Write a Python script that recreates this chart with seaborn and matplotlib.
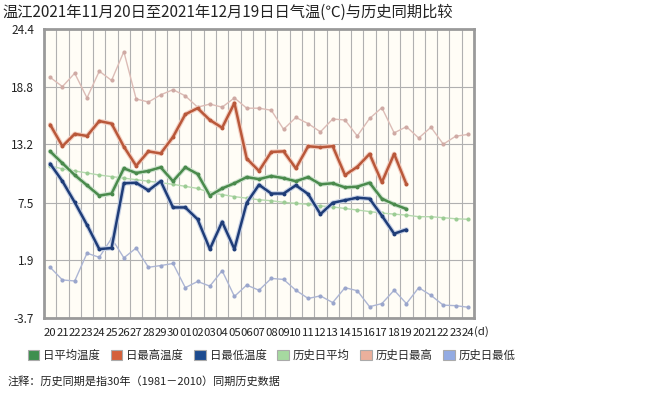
import numpy as np
import pandas as pd
import matplotlib
matplotlib.use("Agg")
import matplotlib.pyplot as plt
from matplotlib.patches import Patch
import seaborn as sns

# ---------------- data ----------------
day_labels = ["20", "21", "22", "23", "24", "25", "26", "27", "28", "29", "30",
              "01", "02", "03", "04", "05", "06", "07", "08", "09", "10",
              "11", "12", "13", "14", "15", "16", "17", "18", "19", "20",
              "21", "22", "23", "24"]

daily_mean = [12.5, 11.35, 10.2, 9.2, 8.2, 8.4, 10.85, 10.4, 10.6, 10.95,
              9.6, 10.95, 10.3, 8.2, 8.9, 9.4, 10.0, 9.8, 10.1, 9.9,
              9.6, 10.0, 9.3, 9.4, 9.0, 9.07, 9.45, 7.9, 7.35, 6.9]
daily_max = [15.1, 13.0, 14.2, 14.0, 15.45, 15.2, 12.96, 11.1, 12.5, 12.3,
             13.9, 16.1, 16.7, 15.55, 14.8, 17.2, 11.8, 10.6, 12.45, 12.5,
             10.85, 13.0, 12.9, 13.0, 10.2, 11.0, 12.25, 9.5, 12.25, 9.3]
daily_min = [11.3, 9.6, 7.55, 5.35, 3.0, 3.1, 9.4, 9.45, 8.7, 9.6,
             7.05, 7.05, 5.9, 3.0, 5.65, 3.0, 7.5, 9.25, 8.4, 8.4,
             9.2, 8.35, 6.4, 7.5, 7.75, 8.0, 7.9, 6.25, 4.5, 4.9]
hist_mean = [11.1, 10.8, 10.6, 10.4, 10.2, 10.05, 9.9, 9.75, 9.6, 9.45,
             9.3, 9.1, 8.9, 8.5, 8.3, 8.1, 7.95, 7.8, 7.7, 7.55,
             7.45, 7.35, 7.2, 7.1, 6.95, 6.8, 6.65, 6.5, 6.4, 6.3,
             6.15, 6.15, 6.05, 5.95, 5.9]
hist_max = [19.7, 18.8, 20.1, 17.7, 20.3, 19.4, 22.2, 17.6, 17.3, 18.0,
            18.5, 17.9, 16.8, 17.1, 16.8, 17.7, 16.7, 16.7, 16.5, 14.65,
            15.8, 15.2, 14.4, 15.65, 15.55, 14.0, 15.7, 16.75, 14.3, 14.9,
            13.8, 14.85, 13.2, 13.97, 14.15]
hist_min = [1.23, 0.0, -0.1, 2.6, 2.2, 4.05, 2.15, 3.1, 1.23, 1.4,
            1.6, -0.75, -0.15, -0.6, 0.9, -1.6, -0.5, -1.0, 0.15, 0.05,
            -1.0, -1.8, -1.55, -2.2, -0.75, -1.05, -2.6, -2.3, -1.0, -2.3,
            -0.75, -1.5, -2.45, -2.5, -2.65]

y_ticks = [-3.7, 1.9, 7.5, 13.2, 18.8, 24.4]

title = "温江2021年11月20日至2021年12月19日日气温(℃)与历史同期比较"
legend_names = ["日平均温度", "日最高温度", "日最低温度", "历史日平均", "历史日最高", "历史日最低"]
legend_colors = ["#3e8f4f", "#d4603a", "#1d4b8f", "#a6d9a0", "#ebb09c", "#93abe3"]
note = "注释：历史同期是指30年（1981－2010）同期历史数据"

# ---------------- style ----------------
sns.set_theme(style="white")
plt.rcParams['font.family'] = ['Noto Sans CJK SC', 'DejaVu Sans']

fig = plt.figure(figsize=(6.54, 3.97), dpi=100)
ax = fig.add_axes([44 / 654, 1 - 318 / 397, 430 / 654, 289 / 397])
ax.set_facecolor("#fffdf6")

# history series (thin)
hist_specs = [
    (hist_max, "#dcbcb6", "#cfaaa4"),
    (hist_mean, "#b5d9ae", "#9ccc94"),
    (hist_min, "#adb6d4", "#9aa6cc"),
]
for vals, c, mc in hist_specs:
    x = np.arange(len(vals))
    sns.lineplot(x=x, y=vals, ax=ax, color=c, lw=1.0, marker="o",
                 markersize=3, markerfacecolor=mc, markeredgewidth=0, zorder=3)

# daily series (with soft glow)
daily_specs = [
    (daily_max, "#b9583a", "#f2cfc2"),
    (daily_mean, "#4a8a4c", "#cfe3cf"),
    (daily_min, "#1f3d78", "#c6d0e4"),
]
for vals, c, glow in daily_specs:
    x = np.arange(len(vals))
    sns.lineplot(x=x, y=vals, ax=ax, color=glow, lw=3.4, zorder=4)
    sns.lineplot(x=x, y=vals, ax=ax, color=c, lw=1.8, marker="o",
                 markersize=2.8, markeredgewidth=0, zorder=5)

n = len(day_labels)
ax.set_xlim(-0.5, n - 0.5)
ax.set_ylim(y_ticks[0], y_ticks[-1])

ax.set_xticks(np.arange(n))
ax.set_xticklabels(day_labels, fontsize=8.2, color="#222222")
ax.set_xticks(np.arange(n + 1) - 0.5, minor=True)
ax.tick_params(axis="x", which="major", length=0, pad=7)
ax.tick_params(axis="x", which="minor", length=4, color="#999999", width=0.8, direction="out")
ax.grid(True, axis="x", which="minor", color="#b0b0b0", lw=0.8)
ax.grid(False, axis="x", which="major")

ax.set_yticks(y_ticks)
ax.set_yticklabels([f"{v:.1f}" for v in y_ticks], fontsize=8.5, color="#222222")
ax.tick_params(axis="y", which="major", length=5, color="#999999", width=0.8, direction="out", pad=2)
ax.grid(True, axis="y", which="major", color="#b0b0b0", lw=0.8)

for s in ax.spines.values():
    s.set_color("#9a9a9a")
    s.set_linewidth(2)
ax.set_xlabel("")
ax.set_ylabel("")

fig.text(474 / 654, 1 - 332 / 397, "(d)", fontsize=8.2, color="#222222", va="center", ha="left")

fig.text(2 / 654, 1 - 12 / 397, title, fontsize=11, color="#222222", va="center", ha="left")

handles = [Patch(facecolor=c, edgecolor="#aaaaaa", lw=0.8) for c in legend_colors]
fig.legend(handles, legend_names, loc="center left", bbox_to_anchor=(28 / 654, 1 - 355 / 397),
           ncol=6, frameon=False, fontsize=8.2, handlelength=1.0, handleheight=1.0,
           handletextpad=0.35, columnspacing=0.95, borderaxespad=0, borderpad=0)

fig.text(8 / 654, 1 - 381 / 397, note, fontsize=8.0, color="#222222", va="center", ha="left")

fig.savefig("out.png", dpi=100, facecolor="white")
